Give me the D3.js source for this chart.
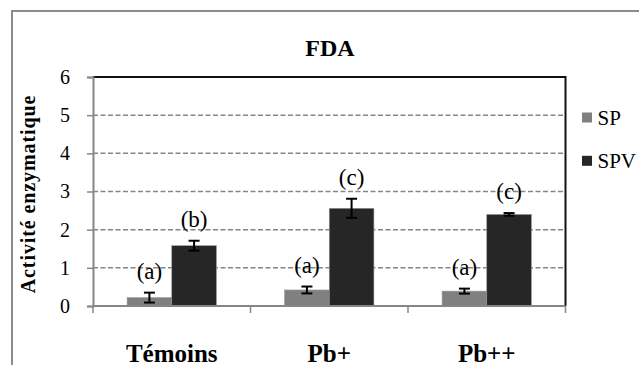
<!DOCTYPE html>
<html>
<head>
<meta charset="utf-8">
<script src="https://cdn.jsdelivr.net/npm/d3@7"></script>
<style>
  body { margin: 0; background: #fff; }
  svg { display: block; }
  svg text { font-family: 'Liberation Serif', 'Times New Roman', 'DejaVu Serif', serif; }
</style>
</head>
<body>
<svg id="chart"></svg>
<script>
(function () {
var width = 639, height = 365
var serif = "'Liberation Serif', 'Times New Roman', 'DejaVu Serif', serif"

// data
var categories = ['Témoins', 'Pb+', 'Pb++']
var series = ['SP', 'SPV']
var spValues = [0.22, 0.42, 0.39]
var spErrors = [0.13, 0.09, 0.065]
var spvValues = [1.58, 2.56, 2.40]
var spvErrors = [0.13, 0.25, 0.035]
var spLetters = ['(a)', '(a)', '(a)']
var spvLetters = ['(b)', '(c)', '(c)']
var yTicks = [0, 1, 2, 3, 4, 5, 6]

var grey = '#808080'
var dark = '#262626'
var axisGrey = '#868686'

var rows = []
categories.forEach(function (c, i) {
    rows.push({cat: c, s: 'SP', v: spValues[i], e: spErrors[i], lab: spLetters[i]})
    rows.push({cat: c, s: 'SPV', v: spvValues[i], e: spvErrors[i], lab: spvLetters[i]})
})
var color = {SP: grey, SPV: dark}

var svg = d3.select('#chart')
    .attr('width', width)
    .attr('height', height)
    .attr('font-family', serif)

svg.append('rect').attr('width', width).attr('height', height).attr('fill', '#fff')

// outer chart frame (runs off the right and bottom edges)
svg.append('rect')
    .attr('x', 12).attr('y', 11)
    .attr('width', 700).attr('height', 400)
    .attr('fill', 'none')
    .attr('stroke', '#8c8c8c')
    .attr('stroke-width', 2)

var plot = {left: 93, right: 565.5, top: 77, bottom: 306}

var x0 = d3.scaleBand().domain(categories).range([plot.left, plot.right])
var x1 = d3.scaleBand().domain(series).range([0, x0.bandwidth()]).paddingOuter(0.763)
var y = d3.scaleLinear().domain([0, 6]).range([plot.bottom, plot.top])

// grid lines
svg.append('g')
    .selectAll('line')
    .data(yTicks.filter(function (t) { return t > 0 && t < 6 }))
    .enter().append('line')
    .attr('x1', plot.left).attr('x2', plot.right)
    .attr('y1', function (d) { return y(d) }).attr('y2', function (d) { return y(d) })
    .attr('stroke', axisGrey)
    .attr('stroke-width', 1.5)
    .attr('stroke-dasharray', '5,2.5')

// plot area border (black top / right)
svg.append('path')
    .attr('d', 'M' + plot.left + ',' + y(6) + 'H' + plot.right + 'V' + plot.bottom)
    .attr('fill', 'none')
    .attr('stroke', '#111')
    .attr('stroke-width', 2)

// bars
svg.append('g')
    .selectAll('rect')
    .data(rows)
    .enter().append('rect')
    .attr('x', function (d) { return x0(d.cat) + x1(d.s) })
    .attr('width', x1.bandwidth())
    .attr('y', function (d) { return y(d.v) })
    .attr('height', function (d) { return y(0) - y(d.v) })
    .attr('fill', function (d) { return color[d.s] })
    .attr('stroke', '#9a9a9a')
    .attr('stroke-width', 0.6)

// error bars
var eb = svg.append('g')
    .selectAll('g')
    .data(rows)
    .enter().append('g')
    .attr('transform', function (d) { return 'translate(' + (x0(d.cat) + x1(d.s) + x1.bandwidth() / 2) + ',0)' })
    .attr('stroke', '#000')
    .attr('stroke-width', 2)
eb.append('line')
    .attr('y1', function (d) { return y(d.v + d.e) })
    .attr('y2', function (d) { return y(d.v - d.e) })
eb.append('line')
    .attr('x1', -5.5).attr('x2', 5.5)
    .attr('y1', function (d) { return y(d.v + d.e) })
    .attr('y2', function (d) { return y(d.v + d.e) })
eb.append('line')
    .attr('x1', -5.5).attr('x2', 5.5)
    .attr('y1', function (d) { return y(d.v - d.e) })
    .attr('y2', function (d) { return y(d.v - d.e) })

// significance letters
svg.append('g')
    .selectAll('text')
    .data(rows)
    .enter().append('text')
    .attr('x', function (d) { return x0(d.cat) + x1(d.s) + x1.bandwidth() / 2 })
    .attr('y', function (d) { return y(d.v + d.e) - 14 })
    .attr('text-anchor', 'middle')
    .style('font-family', serif)
    .style('font-size', '23px')
    .attr('fill', '#000')
    .text(function (d) { return d.lab })

// y axis
var yAxis = svg.append('g')
    .attr('transform', 'translate(' + plot.left + ',0)')
    .call(d3.axisLeft(y).tickValues(yTicks).tickSize(6).tickPadding(17).tickFormat(d3.format('d')))
yAxis.attr('font-family', serif)
yAxis.select('.domain').attr('stroke', axisGrey).attr('stroke-width', 2)
yAxis.selectAll('.tick line').attr('stroke', axisGrey).attr('stroke-width', 1.5)
yAxis.selectAll('.tick text')
    .attr('fill', '#000')
    .style('font-family', serif)
    .style('font-size', '20px')

// x axis: baseline plus boundary ticks
var bounds = categories.map(function (c) { return x0(c) }).concat([plot.right])
svg.append('line')
    .attr('x1', plot.left).attr('x2', plot.right)
    .attr('y1', plot.bottom).attr('y2', plot.bottom)
    .attr('stroke', axisGrey).attr('stroke-width', 2)
svg.append('g')
    .selectAll('line')
    .data(bounds)
    .enter().append('line')
    .attr('x1', function (d) { return d }).attr('x2', function (d) { return d })
    .attr('y1', plot.bottom).attr('y2', plot.bottom + 7)
    .attr('stroke', axisGrey).attr('stroke-width', 1.5)

svg.append('g')
    .selectAll('text')
    .data(categories)
    .enter().append('text')
    .attr('x', function (d) { return x0(d) + x0.bandwidth() / 2 })
    .attr('y', 362)
    .attr('text-anchor', 'middle')
    .style('font-family', serif)
    .style('font-size', '25px')
    .style('font-weight', 'bold')
    .text(function (d) { return d })

// title
svg.append('text')
    .attr('x', 330).attr('y', 56)
    .attr('text-anchor', 'middle')
    .style('font-family', serif)
    .style('font-size', '24px')
    .style('font-weight', 'bold')
    .text('FDA')

// y title
svg.append('text')
    .attr('transform', 'translate(35,194) rotate(-90)')
    .attr('text-anchor', 'middle')
    .style('font-family', serif)
    .style('font-size', '20px')
    .style('font-weight', 'bold')
    .style('letter-spacing', '0.9px')
    .text('Activité enzymatique')

// legend
var leg = svg.append('g')
    .selectAll('g')
    .data(series)
    .enter().append('g')
    .attr('transform', function (d, i) { return 'translate(582,' + (112.5 + i * 43.3) + ')' })
leg.append('rect')
    .attr('width', 10).attr('height', 10)
    .attr('fill', function (d) { return color[d] })
leg.append('text')
    .attr('x', 15.5).attr('y', 12.5)
    .style('font-family', serif)
    .style('font-size', '21px')
    .text(function (d) { return d })
})();
</script>
</body>
</html>
